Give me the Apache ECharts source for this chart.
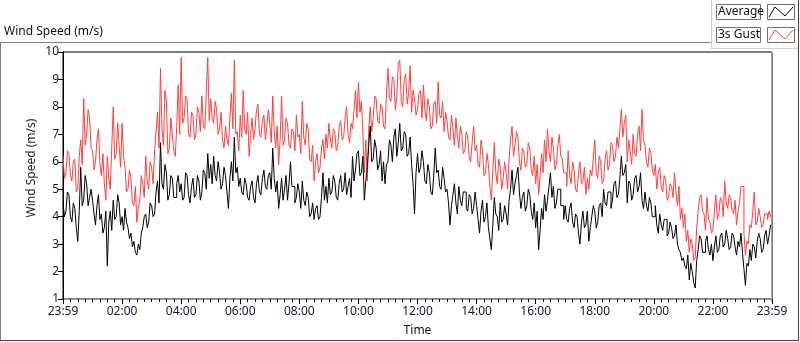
<!DOCTYPE html>
<html>
<head>
<meta charset="utf-8">
<script src="https://cdn.jsdelivr.net/npm/echarts@6/dist/echarts.min.js"></script>
<style>
html,body{margin:0;padding:0;background:#fff;}
#chart{width:800px;height:342px;}
</style>
</head>
<body>
<div id="chart"></div>
<script>
// Time axis: minutes since 23:59 (start), sampled every 3 minutes
const stepMinutes = 3;
const tickLabels = ["23:59","02:00","04:00","06:00","08:00","10:00","12:00","14:00","16:00","18:00","20:00","22:00","23:59"];
const seriesNames = ["Average", "3s Gust"];

// 3s Gust (m/s), one row per hour
const gust = [
  6.2, 5.4, 5.6, 6.4, 6.3, 5.5, 5.3, 6.0, 6.1, 4.9, 5.0, 6.2, 6.8, 5.9, 8.3, 6.6, 7.0, 7.9, 7.6, 6.5,
  6.4, 5.7, 6.0, 6.8, 7.2, 5.9, 5.5, 6.3, 5.2, 4.6, 6.2, 5.4, 5.0, 6.5, 8.0, 6.1, 6.3, 7.4, 6.6, 5.8,
  7.4, 6.2, 5.8, 4.9, 5.0, 5.7, 5.4, 4.5, 4.4, 5.1, 3.8, 4.3, 4.6, 5.5, 5.2, 4.7, 6.2, 5.3, 5.0, 6.0,
  5.8, 5.2, 6.4, 7.1, 7.8, 6.5, 9.4, 7.2, 6.6, 8.6, 8.2, 6.3, 6.5, 7.6, 7.0, 6.4, 6.2, 7.3, 8.8, 7.0,
  9.8, 7.4, 7.6, 8.4, 8.3, 7.0, 6.9, 7.8, 7.7, 6.8, 7.0, 8.0, 7.8, 7.1, 8.4, 7.3, 7.2, 8.5, 9.8, 7.5,
  8.3, 7.6, 7.4, 8.2, 7.9, 7.0, 7.2, 7.8, 6.8, 6.5, 7.3, 6.8, 6.6, 7.6, 8.5, 7.2, 9.7, 7.0, 7.1, 6.4,
  7.7, 6.9, 8.6, 7.2, 7.0, 7.8, 6.2, 7.0, 7.6, 6.8, 7.2, 7.9, 8.1, 7.0, 6.9, 7.5, 7.7, 6.8, 7.3, 7.9,
  7.4, 6.7, 8.4, 7.1, 6.5, 7.3, 5.9, 6.8, 8.4, 6.6, 6.8, 7.6, 7.4, 6.6, 6.5, 7.2, 7.1, 6.4, 7.7, 6.9,
  7.0, 6.3, 8.2, 6.9, 6.6, 7.4, 7.2, 6.1, 6.0, 6.6, 5.3, 6.0, 6.3, 5.6, 5.8, 6.5, 6.8, 6.1, 7.0, 6.5,
  7.4, 6.8, 6.5, 7.2, 7.1, 6.4, 6.6, 7.3, 7.5, 6.8, 6.9, 7.6, 8.0, 7.0, 6.7, 7.4, 7.2, 7.9, 8.6, 7.6,
  8.9, 7.8, 8.2, 7.1, 5.6, 6.8, 5.3, 7.2, 8.0, 7.1, 7.6, 8.4, 8.3, 7.5, 7.4, 8.1, 8.0, 7.3, 7.2, 8.5,
  9.4, 8.3, 8.2, 9.1, 9.0, 7.9, 8.4, 9.6, 9.7, 8.2, 8.0, 9.0, 9.2, 8.1, 8.5, 9.5, 7.8, 8.6, 8.3, 7.7,
  7.9, 8.5, 8.6, 7.6, 8.8, 7.9, 7.5, 8.3, 8.0, 7.2, 7.3, 8.1, 8.2, 7.4, 8.9, 7.7, 7.6, 8.2, 7.1, 7.8,
  7.5, 6.9, 6.8, 7.7, 7.2, 6.6, 7.6, 6.9, 6.5, 7.3, 7.0, 6.3, 6.4, 7.1, 6.9, 6.2, 6.0, 6.7, 7.3, 6.4,
  6.6, 5.9, 5.8, 6.8, 6.4, 5.5, 5.6, 6.3, 5.9, 5.1, 4.6, 5.7, 6.7, 5.6, 5.2, 6.1, 5.8, 5.0, 5.4, 6.0,
  5.6, 5.0, 6.1, 6.8, 7.3, 6.2, 6.6, 7.1, 6.9, 6.0, 5.7, 6.5, 6.4, 5.8, 5.9, 6.7, 6.5, 5.7, 5.5, 6.2,
  5.2, 5.9, 4.8, 5.5, 6.3, 5.6, 6.8, 6.0, 7.2, 6.4, 6.0, 6.9, 6.5, 5.7, 5.9, 6.6, 7.0, 6.2, 6.1, 5.6,
  5.6, 5.1, 6.4, 5.5, 5.2, 6.0, 5.7, 5.0, 4.9, 5.6, 6.0, 5.2, 5.3, 5.8, 4.8, 5.4, 5.0, 5.7, 5.5, 6.1,
  6.8, 5.6, 5.4, 6.2, 6.0, 5.2, 5.3, 6.1, 6.4, 5.7, 5.9, 6.7, 6.6, 6.0, 6.2, 6.9, 6.5, 7.2, 7.9, 6.9,
  7.4, 7.7, 6.0, 6.8, 6.4, 5.9, 7.0, 6.3, 6.2, 7.0, 7.3, 6.4, 7.9, 6.8, 6.6, 6.0, 5.8, 6.5, 6.3, 5.7,
  5.5, 5.9, 5.0, 5.6, 5.8, 5.1, 4.9, 5.5, 5.3, 4.6, 4.7, 5.2, 5.1, 4.7, 5.6, 4.9, 4.4, 5.1, 3.9, 4.3,
  3.6, 4.1, 3.1, 3.5, 2.7, 3.2, 3.0, 2.4, 2.5, 3.6, 4.2, 4.7, 4.8, 4.2, 4.1, 3.5, 4.7, 3.9, 3.8, 3.4,
  3.5, 4.2, 4.8, 3.9, 4.1, 4.7, 4.6, 4.0, 5.3, 4.5, 4.3, 4.8, 4.7, 4.2, 4.1, 4.6, 3.7, 4.2, 4.5, 5.1,
  5.1, 3.4, 2.6, 3.1, 3.0, 3.7, 3.6, 4.2, 4.9, 3.7, 3.8, 4.3, 4.0, 3.6, 3.7, 4.1, 4.1, 3.9, 4.2, 4.0,
  4.2
];

// Average (m/s), one row per hour
const average = [
  4.5, 4.0, 4.2, 4.9, 4.8, 4.0, 3.8, 4.5, 4.3, 3.6, 3.1, 4.2, 5.8, 4.4, 4.6, 5.5, 5.2, 4.4, 4.7, 5.0,
  4.6, 4.1, 3.7, 4.4, 4.8, 3.9, 4.1, 3.4, 3.6, 4.2, 2.2, 3.8, 4.2, 3.5, 4.6, 3.9, 4.0, 4.8, 4.5, 3.7,
  4.0, 3.5, 4.3, 3.8, 3.6, 3.2, 3.4, 2.9, 3.1, 2.7, 2.6, 3.0, 2.8, 3.4, 3.6, 4.0, 4.1, 3.6, 3.8, 4.5,
  4.4, 4.0, 4.1, 4.9, 5.3, 4.5, 6.7, 5.2, 5.0, 5.9, 5.6, 4.6, 4.8, 5.5, 5.4, 4.7, 4.7, 5.2, 5.5, 4.9,
  5.2, 4.6, 4.7, 5.6, 5.5, 4.8, 4.5, 5.1, 5.4, 4.7, 4.8, 5.5, 5.3, 4.6, 4.9, 5.7, 5.6, 5.0, 6.3, 5.4,
  5.9, 5.2, 6.2, 5.5, 5.3, 6.0, 5.6, 5.0, 5.2, 5.8, 5.5, 4.9, 4.3, 5.4, 6.0, 5.3, 6.9, 5.6, 5.8, 5.1,
  5.4, 4.9, 4.8, 5.4, 5.2, 4.7, 4.6, 5.1, 5.3, 4.7, 4.5, 5.2, 5.5, 4.9, 4.8, 5.4, 5.7, 5.1, 5.0, 5.5,
  5.6, 5.0, 6.5, 5.4, 4.9, 5.3, 4.3, 4.8, 5.4, 4.6, 5.0, 5.5, 4.6, 5.2, 6.0, 5.1, 5.1, 4.5, 4.7, 5.2,
  4.9, 4.3, 5.3, 4.6, 4.4, 4.9, 4.7, 4.0, 4.1, 4.5, 3.9, 4.3, 4.4, 3.9, 4.0, 4.7, 5.6, 4.6, 5.1, 4.5,
  5.4, 4.8, 4.9, 5.5, 5.3, 4.7, 4.6, 5.2, 5.5, 4.9, 5.0, 5.6, 4.8, 5.1, 5.4, 4.7, 6.2, 5.3, 5.7, 6.3,
  6.4, 5.5, 5.6, 6.2, 4.6, 5.3, 5.8, 6.6, 7.3, 6.0, 6.1, 6.8, 6.5, 5.7, 5.9, 6.4, 5.3, 6.0, 5.2, 5.9,
  6.0, 6.8, 6.6, 6.0, 6.9, 7.2, 6.2, 6.7, 7.4, 6.4, 6.5, 7.1, 7.0, 6.2, 6.3, 6.9, 5.9, 5.2, 4.1, 5.6,
  6.3, 5.6, 5.8, 6.4, 6.0, 5.3, 5.2, 5.9, 5.6, 4.9, 4.8, 5.5, 6.5, 5.6, 5.7, 5.1, 5.0, 5.8, 5.4, 4.9,
  5.0, 4.5, 3.7, 4.4, 4.8, 5.2, 4.5, 4.1, 5.1, 4.6, 4.4, 4.9, 4.9, 4.3, 4.2, 4.8, 4.7, 4.1, 4.3, 4.9,
  4.4, 3.9, 3.4, 4.2, 4.6, 3.8, 4.0, 4.5, 3.6, 3.2, 2.8, 3.7, 4.7, 4.1, 4.0, 3.5, 4.5, 3.8, 3.9, 4.4,
  4.1, 3.7, 4.6, 5.0, 5.7, 4.8, 5.2, 5.5, 5.8, 4.9, 4.3, 4.7, 4.9, 4.2, 4.4, 5.0, 4.8, 4.2, 3.9, 4.5,
  3.6, 4.2, 2.8, 3.5, 4.3, 3.9, 4.8, 4.2, 4.6, 5.1, 5.6, 4.7, 5.1, 4.3, 4.5, 5.0, 5.0, 4.4, 4.4, 3.9,
  4.4, 3.9, 3.8, 4.3, 4.5, 3.8, 3.6, 4.1, 4.0, 3.4, 3.0, 3.8, 4.2, 3.6, 3.7, 4.2, 3.1, 3.6, 4.0, 4.4,
  4.2, 3.6, 3.8, 4.4, 4.5, 4.0, 5.0, 4.5, 4.4, 4.9, 4.9, 4.3, 4.6, 5.2, 5.3, 4.7, 4.8, 5.4, 6.2, 5.5,
  5.6, 5.9, 4.5, 5.3, 5.2, 4.6, 4.8, 5.4, 5.5, 4.9, 5.1, 5.6, 4.6, 4.3, 4.9, 4.4, 4.2, 4.7, 4.5, 4.0,
  4.0, 4.4, 3.7, 3.4, 4.1, 3.7, 3.5, 3.9, 3.9, 3.3, 3.4, 3.8, 3.6, 3.2, 3.3, 3.7, 3.0, 2.8, 2.7, 2.4,
  2.5, 2.2, 2.1, 2.6, 1.7, 2.3, 2.0, 1.6, 1.4, 2.4, 2.8, 3.3, 3.2, 2.7, 2.7, 3.1, 3.3, 2.8, 2.6, 3.0,
  2.4, 2.9, 3.3, 2.7, 2.8, 3.3, 3.4, 2.9, 3.0, 3.5, 3.2, 2.8, 2.9, 3.4, 3.3, 2.9, 2.6, 3.1, 2.9, 3.4,
  2.7, 2.1, 1.5, 2.3, 2.2, 2.8, 2.4, 3.0, 2.9, 2.5, 3.1, 3.4, 3.2, 2.7, 2.8, 3.3, 3.5, 3.0, 3.3, 3.7,
  3.6
];

const FONT = "Noto Sans";
const chart = echarts.init(document.getElementById('chart'), null, {renderer: 'canvas'});
const pairs = arr => arr.map((v, i) => [i * stepMinutes, v]);

const option = {
  animation: false,
  backgroundColor: '#ffffff',
  textStyle: {fontFamily: FONT},
  grid: {left: 63, right: 28, top: 52, bottom: 40, show: true, borderColor: '#000', borderWidth: 1, backgroundColor: '#fff'},
  xAxis: {
    type: 'value', min: 0, max: 1440, interval: 120,
    name: 'Time', nameLocation: 'middle', nameGap: 26,
    nameTextStyle: {color: '#111', fontSize: 12, fontFamily: FONT},
    axisLine: {show: true, lineStyle: {color: '#a0a0a0', width: 1}},
    axisTick: {show: true, length: 5, lineStyle: {color: '#000'}},
    minorTick: {show: true, splitNumber: 8, length: 3, lineStyle: {color: '#000'}},
    splitLine: {show: false},
    minorSplitLine: {show: false},
    axisLabel: {color: '#14143c', fontSize: 12, fontFamily: FONT, margin: 7,
      formatter: v => tickLabels[Math.round(v / 120)] || ''}
  },
  yAxis: {
    type: 'value', min: 1, max: 10, interval: 1,
    axisLine: {show: true, lineStyle: {color: '#000', width: 1}},
    axisTick: {show: true, length: 5, lineStyle: {color: '#000'}},
    splitLine: {show: false},
    axisLabel: {color: '#14143c', fontSize: 12, fontFamily: FONT, margin: 4}
  },
  series: [
    {name: seriesNames[1], type: 'line', step: 'end', data: pairs(gust), showSymbol: false, symbol: 'none',
     lineStyle: {color: '#ff4040', width: 1}, z: 2},
    {name: seriesNames[0], type: 'line', step: 'end', data: pairs(average), showSymbol: false, symbol: 'none',
     lineStyle: {color: '#000000', width: 1}, z: 3}
  ],
  graphic: [
    // outer frame
    {type: 'line', shape: {x1: 0, y1: 42.5, x2: 711, y2: 42.5}, style: {stroke: '#808080', lineWidth: 1}, silent: true},
    {type: 'line', shape: {x1: 0.5, y1: 42, x2: 0.5, y2: 341}, style: {stroke: '#808080', lineWidth: 1}, silent: true},
    {type: 'line', shape: {x1: 0, y1: 340.5, x2: 799, y2: 340.5}, style: {stroke: '#404040', lineWidth: 1}, silent: true},
    {type: 'line', shape: {x1: 798.5, y1: 0, x2: 798.5, y2: 341}, style: {stroke: '#404040', lineWidth: 1}, silent: true},
    {type: 'line', shape: {x1: 711.5, y1: 0, x2: 711.5, y2: 48.5}, style: {stroke: '#d0d0d0', lineWidth: 1}, silent: true},
    {type: 'line', shape: {x1: 711, y1: 48.5, x2: 798, y2: 48.5}, style: {stroke: '#d0d0d0', lineWidth: 1}, silent: true},
    // right plot border (grey)
    {type: 'line', shape: {x1: 771.5, y1: 52, x2: 771.5, y2: 302}, style: {stroke: '#a0a0a0', lineWidth: 1}, silent: true, z: 10},
    // chart title
    {type: 'text', left: 4, top: 26, style: {text: 'Wind Speed (m/s)', fill: '#111', font: '12px "Noto Sans"'}},
    // y axis title
    {type: 'text', x: 32, y: 168, rotation: Math.PI / 2,
     style: {text: 'Wind Speed (m/s)', fill: '#222', font: '12px "Noto Sans"', textAlign: 'center', textVerticalAlign: 'middle'}},
    // legend: Average
    {type: 'rect', shape: {x: 716.5, y: 4.5, width: 44, height: 15}, style: {fill: '#fff', stroke: '#707070', lineWidth: 1}},
    {type: 'text', x: 718, y: 12, style: {text: seriesNames[0], fill: '#111', font: '12px "Noto Sans"', textVerticalAlign: 'middle'}},
    {type: 'rect', shape: {x: 767.5, y: 4.5, width: 27, height: 15}, style: {fill: '#fff', stroke: '#707070', lineWidth: 1}},
    {type: 'polyline', shape: {points: [[769, 17], [775, 7], [785, 16], [793, 7]]}, style: {stroke: '#000', lineWidth: 1, fill: null}},
    // legend: 3s Gust
    {type: 'rect', shape: {x: 716.5, y: 27.5, width: 44, height: 15}, style: {fill: '#fff', stroke: '#707070', lineWidth: 1}},
    {type: 'text', x: 718, y: 35, style: {text: seriesNames[1], fill: '#111', font: '12px "Noto Sans"', textVerticalAlign: 'middle'}},
    {type: 'rect', shape: {x: 767.5, y: 27.5, width: 27, height: 15}, style: {fill: '#fff', stroke: '#707070', lineWidth: 1}},
    {type: 'polyline', shape: {points: [[769, 40], [775, 30], [785, 39], [793, 30]]}, style: {stroke: '#ff4040', lineWidth: 1, fill: null}}
  ]
};
chart.setOption(option);
</script>
</body>
</html>
